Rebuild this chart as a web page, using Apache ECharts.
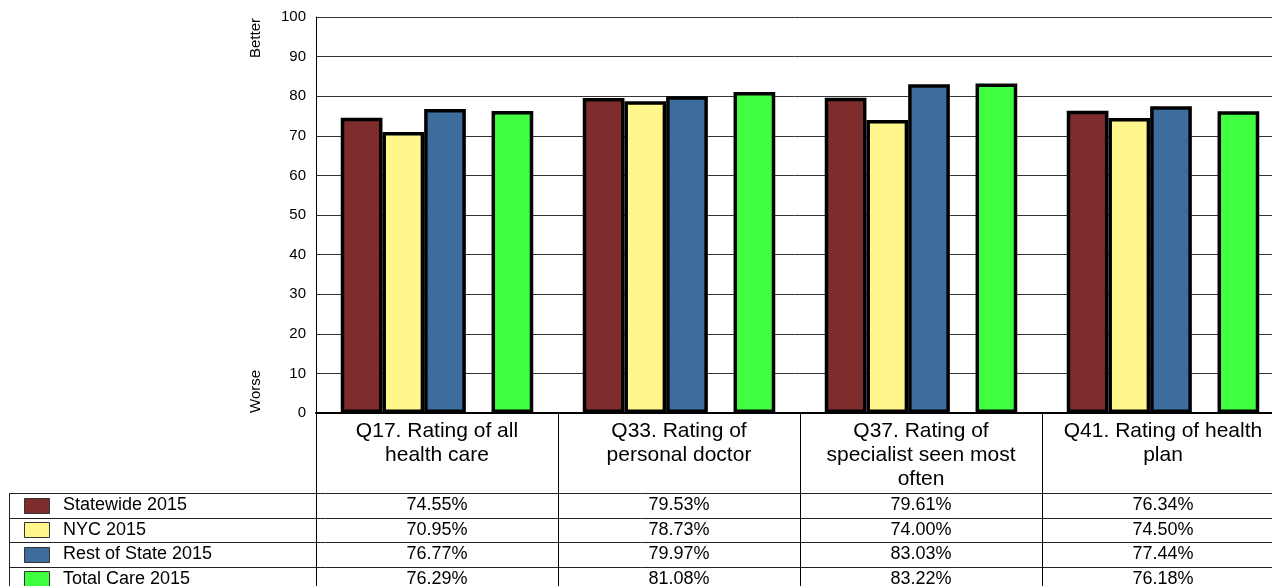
<!DOCTYPE html>
<html>
<head>
<meta charset="utf-8">
<script src="https://cdn.jsdelivr.net/npm/echarts@6/dist/echarts.min.js"></script>
<style>
    html, body { margin: 0; padding: 0; background: #fff; }
    #chart { width: 1272px; height: 586px; }
</style>
</head>
<body>
<div id="chart"></div>
<script>
// data
const categories = [
    'Q17. Rating of all\nhealth care',
    'Q33. Rating of\npersonal doctor',
    'Q37. Rating of\nspecialist seen most\noften',
    'Q41. Rating of health\nplan'
];
const seriesNames = ['Statewide 2015', 'NYC 2015', 'Rest of State 2015', 'Total Care 2015'];
const statewide = [74.55, 79.53, 79.61, 76.34];
const nyc = [70.95, 78.73, 74.00, 74.50];
const restOfState = [76.77, 79.97, 83.03, 77.44];
const totalCare = [76.29, 81.08, 83.22, 76.18];
const colors = ['#7f2c2c', '#fff68c', '#3c6d9d', '#40ff40'];
const yMin = 0, yMax = 100, yStep = 10;

const FONT = '"Liberation Sans", Arial, sans-serif';
const seriesValues = [statewide, nyc, restOfState, totalCare];

const BAR_W = 41.7;
const GAP_W = 25.7;

function barSeries(i) {
    return {
        name: seriesNames[i],
        type: 'bar',
        data: seriesValues[i],
        barWidth: BAR_W,
        barGap: 0,
        itemStyle: {
            color: colors[i],
            borderColor: '#000',
            borderWidth: 3.5
        },
        emphasis: { disabled: true }
    };
}

const chart = echarts.init(document.getElementById('chart'), null, { renderer: 'canvas' });

chart.setOption({
    animation: false,
    backgroundColor: '#fff',
    textStyle: { fontFamily: FONT },
    // the plot runs past the right edge of the window, as in the reference
    grid: { left: 316, top: 17, width: 968, height: 396, outerBoundsMode: 'none' },
    xAxis: {
        type: 'category',
        data: categories,
        axisLine: { lineStyle: { color: '#000', width: 2 } },
        axisTick: { show: true, length: 190, lineStyle: { color: '#000', width: 1 } },
        axisLabel: {
            interval: 0,
            color: '#000',
            fontSize: 21,
            lineHeight: 24,
            margin: 6,
            fontFamily: FONT
        },
        splitLine: { show: false }
    },
    yAxis: {
        type: 'value',
        min: yMin,
        max: yMax,
        interval: yStep,
        axisLine: { show: true, lineStyle: { color: '#000', width: 1 } },
        axisTick: { show: false },
        axisLabel: { color: '#000', fontSize: 15, margin: 10, fontFamily: FONT },
        splitLine: { lineStyle: { color: '#333', width: 1 } }
    },
    series: [
        barSeries(0),
        barSeries(1),
        barSeries(2),
        // empty slot, leaves the gap before Total Care
        { name: 'gap', type: 'bar', data: [], barWidth: GAP_W, barGap: 0 },
        barSeries(3)
    ]
});

// table under the chart, placed from the axis positions
function buildTable() {
    const rowTop = 493;
    const rowH = 24.5;
    const tableLeft = 9.5;
    const rightEnd = 1290;
    const els = [];

    for (let r = 0; r <= seriesNames.length; r++) {
        const y = Math.round(rowTop + r * rowH) + 0.5;
        els.push({
            type: 'line',
            shape: { x1: tableLeft, y1: y, x2: rightEnd, y2: y },
            style: { stroke: '#222', lineWidth: 1 },
            silent: true
        });
    }
    els.push({
        type: 'line',
        shape: { x1: tableLeft, y1: rowTop, x2: tableLeft, y2: 600 },
        style: { stroke: '#222', lineWidth: 1 },
        silent: true
    });

    seriesNames.forEach((name, r) => {
        const cy = rowTop + r * rowH + rowH / 2;
        els.push({
            type: 'rect',
            shape: { x: 24.5, y: Math.round(cy - 7.5) + 0.5, width: 25, height: 15 },
            style: { fill: colors[r], stroke: '#333', lineWidth: 1 },
            silent: true
        });
        els.push({
            type: 'text',
            x: 63,
            y: cy,
            style: { text: name, fill: '#000', font: '18px ' + FONT, textAlign: 'left', textVerticalAlign: 'middle' },
            silent: true
        });
        seriesValues[r].forEach((v, c) => {
            els.push({
                type: 'text',
                x: chart.convertToPixel({ xAxisIndex: 0 }, c),
                y: cy,
                style: { text: v.toFixed(2) + '%', fill: '#000', font: '18px ' + FONT, textAlign: 'center', textVerticalAlign: 'middle' },
                silent: true
            });
        });
    });

    // Better / Worse along the value axis
    const topY = chart.convertToPixel({ yAxisIndex: 0 }, yMax);
    const zeroY = chart.convertToPixel({ yAxisIndex: 0 }, yMin);
    els.push({
        type: 'text',
        x: 256,
        y: topY + 1,
        rotation: Math.PI / 2,
        style: { text: 'Better', fill: '#000', font: '15px ' + FONT, textAlign: 'right', textVerticalAlign: 'middle' },
        silent: true
    });
    els.push({
        type: 'text',
        x: 256,
        y: zeroY,
        rotation: Math.PI / 2,
        style: { text: 'Worse', fill: '#000', font: '15px ' + FONT, textAlign: 'left', textVerticalAlign: 'middle' },
        silent: true
    });

    chart.setOption({ graphic: { elements: els } });
}

buildTable();
</script>
</body>
</html>
